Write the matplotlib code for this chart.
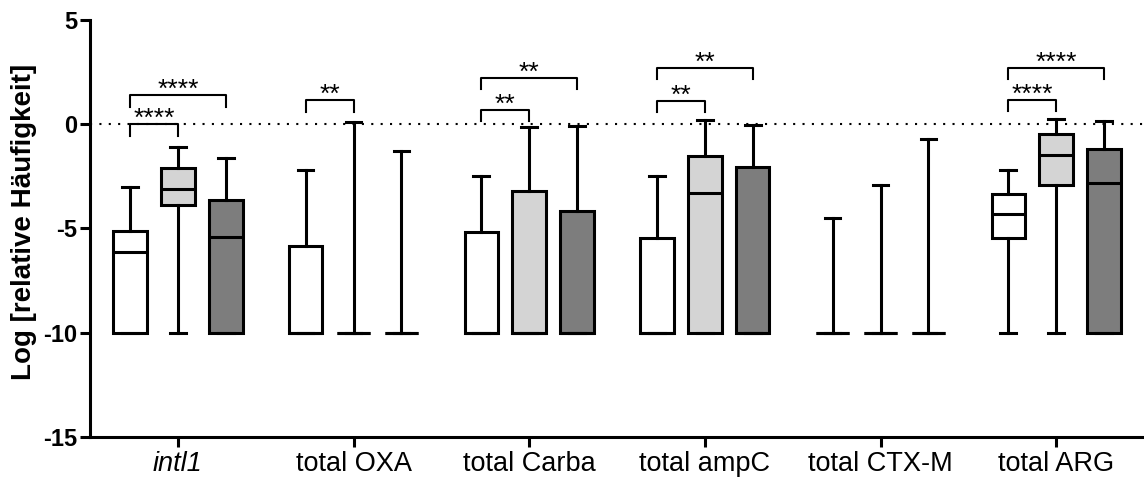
import matplotlib
matplotlib.use("Agg")
import matplotlib.pyplot as plt

# ---------------------------------------------------------------------------
# Daten
# ---------------------------------------------------------------------------
gruppen = ["intl1", "total OXA", "total Carba", "total ampC", "total CTX-M", "total ARG"]

# Serie 1 (weiß)
whishi_a = [-3.0, -2.2, -2.5, -2.5, -4.5, -2.2]
q3_a = [-5.1, -5.85, -5.15, -5.45, -10, -3.33]
med_a = [-6.15, -10, -10, -10, -10, -4.3]
q1_a = [-10, -10, -10, -10, -10, -5.48]
whislo_a = [-10, -10, -10, -10, -10, -10]

# Serie 2 (hellgrau)
whishi_b = [-1.1, 0.1, -0.12, 0.22, -2.9, 0.25]
q3_b = [-2.1, -10, -3.2, -1.5, -10, -0.45]
med_b = [-3.1, -10, -10, -3.3, -10, -1.47]
q1_b = [-3.88, -10, -10, -10, -10, -2.93]
whislo_b = [-10, -10, -10, -10, -10, -10]

# Serie 3 (dunkelgrau)
whishi_c = [-1.6, -1.28, -0.08, -0.03, -0.72, 0.15]
q3_c = [-3.63, -10, -4.17, -2.05, -10, -1.17]
med_c = [-5.4, -10, -10, -10, -10, -2.8]
q1_c = [-10, -10, -10, -10, -10, -10]
whislo_c = [-10, -10, -10, -10, -10, -10]

# Signifikanz-Klammern: (Gruppe, Serie bis, Höhe, Label) - immer ab Serie 1
klammer_gruppe = [0, 0, 1, 2, 2, 3, 3, 5, 5]
klammer_bis = [1, 2, 1, 1, 2, 1, 2, 1, 2]
klammer_hoehe = [0.0, 1.4, 1.15, 0.69, 2.24, 1.12, 2.72, 1.17, 2.72]
klammer_label = ["****", "****", "**", "**", "**", "**", "**", "****", "****"]

serien = [
    (whislo_a, q1_a, med_a, q3_a, whishi_a, "white"),
    (whislo_b, q1_b, med_b, q3_b, whishi_b, "#d4d4d4"),
    (whislo_c, q1_c, med_c, q3_c, whishi_c, "#7d7d7d"),
]

OFFSET = 0.273
BREITE = 0.19
LW = 2.2

plt.rcParams["font.family"] = ["Liberation Sans", "DejaVu Sans"]

fig = plt.figure(figsize=(11.44, 4.79), dpi=100)
ax = fig.add_axes([0.0787, 0.0877, 0.9213, 0.8706])

# Boxplots
for k, (lo, q1, med, q3, hi, farbe) in enumerate(serien):
    stats = []
    for i in range(len(gruppen)):
        stats.append(dict(whislo=lo[i], q1=q1[i], med=med[i], q3=q3[i], whishi=hi[i], fliers=[]))
    pos = [i + (k - 1) * OFFSET for i in range(len(gruppen))]
    ax.bxp(
        stats, positions=pos, widths=BREITE, capwidths=0.09,
        patch_artist=True, showfliers=False, manage_ticks=False,
        boxprops=dict(facecolor=farbe, edgecolor="black", linewidth=LW),
        medianprops=dict(color="black", linewidth=LW),
        whiskerprops=dict(color="black", linewidth=LW),
        capprops=dict(color="black", linewidth=LW),
    )

# Gepunktete Nulllinie
ax.axhline(0, color="black", linestyle=(0, (1, 3.5)), linewidth=1.5, zorder=0)

# Signifikanz-Klammern
for g, bis, y, lab in zip(klammer_gruppe, klammer_bis, klammer_hoehe, klammer_label):
    x1 = g - OFFSET
    x2 = g + (bis - 1) * OFFSET
    ax.plot([x1, x1, x2, x2], [y - 0.55, y, y, y - 0.55], color="black", linewidth=1.5)
    ax.text((x1 + x2) / 2, y - 0.1, lab, ha="center", va="baseline", fontsize=19)

# Achsen
ax.set_xlim(-0.5, 5.5)
ax.set_ylim(-15, 5)
ax.set_yticks([5, 0, -5, -10, -15])
ax.set_yticklabels(["5", "0", "-5", "-10", "-15"], fontweight="bold", fontsize=17)
ax.set_xticks(range(len(gruppen)))
ax.set_xticklabels(gruppen, fontsize=19.5)
ax.get_xticklabels()[0].set_style("italic")
ax.set_ylabel("Log [relative Häufigkeit]", fontweight="bold", fontsize=20)
ax.yaxis.set_label_coords(-0.050, 0.516)

for s in ["top", "right"]:
    ax.spines[s].set_visible(False)
for s in ["left", "bottom"]:
    ax.spines[s].set_linewidth(LW)
ax.tick_params(axis="both", width=LW, length=7, direction="out")
ax.tick_params(axis="y", pad=2)
ax.tick_params(axis="x", pad=3)

fig.savefig("out.png", dpi=100)
